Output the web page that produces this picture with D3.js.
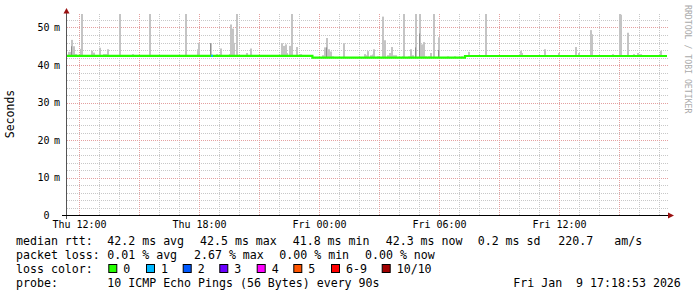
<!DOCTYPE html>
<html>
<head>
<meta charset="utf-8">
<script src="https://cdn.jsdelivr.net/npm/d3@7"></script>
<style>
body { margin: 0; background: #fff; }
text { font-family: "DejaVu Sans Mono", monospace; white-space: pre; }
</style>
</head>
<body>
<svg id="chart" width="697" height="297"></svg>
<script>
// hours are counted from Thu 8 Jan 2026 00:00 (so 24 = Fri 00:00)
var startHour = 11.4, endHour = 41.4;

// median rtt (ms), step line
var medianHours  = [11.4, 23.67, 23.67, 31.3, 31.3, 41.4];
var medianValues = [42.45, 42.45, 41.95, 41.95, 42.4, 42.4];

// smoke: max ping rtt (ms) where it rises above the median
var smokeHours = [11.50, 11.55, 11.65, 11.75, 11.85, 12.10, 12.15, 12.65, 12.75, 13.05,
  13.25, 13.35, 13.45, 14.05, 14.70, 15.55, 17.35, 17.95, 18.00, 18.60,
  18.90, 19.10, 19.55, 19.60, 19.70, 19.75, 19.90, 20.40, 20.60, 22.15,
  22.25, 22.35, 22.40, 22.55, 22.65, 22.90, 23.10, 24.20, 24.30, 24.40,
  24.50, 24.60, 24.70, 25.25, 26.30, 26.35, 26.45, 26.60, 26.70, 26.75,
  26.95, 27.20, 27.30, 27.45, 27.55, 27.65, 27.75, 27.85, 28.20, 28.25,
  28.50, 28.60, 28.70, 28.85, 29.05, 29.15, 29.20, 29.25, 29.35, 29.50,
  29.60, 29.75, 30.00, 30.45, 30.80, 31.15, 31.40, 31.50, 32.35, 34.10,
  34.15, 35.30, 36.00, 36.85, 37.00, 37.60, 37.65, 38.70, 39.05, 39.10,
  39.45, 39.75, 39.95, 40.10, 41.10];
var smokeTops = [43.5, 43.5, 46.7, 45.0, 42.9, 44.3, 53.6, 43.8, 43.3, 44.6,
  42.9, 42.9, 44.2, 53.6, 42.9, 53.6, 53.6, 44.2, 45.9, 45.8,
  42.9, 44.4, 42.9, 50.8, 49.7, 45.9, 53.6, 43.2, 44.4, 45.8,
  45.1, 45.5, 43.2, 45.1, 53.6, 44.8, 42.9, 42.6, 44.7, 47.2,
  44.2, 43.6, 42.3, 45.8, 42.9, 42.6, 43.7, 42.6, 42.8, 44.2,
  42.3, 52.9, 46.6, 42.6, 43.2, 44.8, 42.6, 42.6, 42.3, 53.6,
  42.3, 44.2, 42.6, 53.6, 53.6, 45.5, 44.8, 46.1, 42.3, 42.3,
  43.2, 53.6, 47.4, 42.3, 42.3, 42.3, 42.6, 43.5, 53.6, 43.8,
  43.2, 44.2, 43.2, 44.8, 43.2, 49.3, 48.2, 42.9, 53.6, 53.4,
  48.6, 42.9, 43.2, 42.9, 43.8];

// darker inner smoke
var darkHours = [11.65, 18.60, 24.40, 28.85, 29.05, 30.00];
var darkTops  = [45.0, 45.8, 44.7, 44.7, 48.4, 44.0];

// loss events drawn on the median line
var lossHours  = [18.60];
var lossLevels = [1];

var yMax = 53.6;
var yGridStep = 2, yMajorStep = 10;
var yTickValues = [0, 10, 20, 30, 40, 50];

var lossLabels = ["0", "1", "2", "3", "4", "5", "6-9", "10/10"];
var lossColors = ["#26ff00", "#00b8ff", "#0059ff", "#6a00ff", "#ff00ff", "#ff5500", "#ff0000", "#a10000"];

var rttLabel  = "median rtt:";
var rttItems  = ["42.2 ms avg", "42.5 ms max", "41.8 ms min", "42.3 ms now", "0.2 ms sd", "220.7", "am/s"];
var lossLabel = "packet loss:";
var lossItems = ["0.01 % avg", "2.67 % max", "0.00 % min", "0.00 % now"];
var probeText = "10 ICMP Echo Pings (56 Bytes) every 90s";
var stampText = "Fri Jan  9 17:18:53 2026";

// ---------------------------------------------------------------
var base = new Date(2026, 0, 8, 0, 0, 0).getTime();
function t(h) { return new Date(base + h * 3600e3); }

var svg = d3.select("#chart");
var plotLeft = 67, plotRight = 667, plotTop = 14, plotBottom = 215;

var x = d3.scaleTime().domain([t(startHour), t(endHour)]).range([plotLeft, plotRight]);
var y = d3.scaleLinear().domain([0, yMax]).range([plotBottom, plotTop]);

function px(v) { return Math.round(v) + 0.5; }

var grid = svg.append("g");
// horizontal grid
var yGrid = d3.range(yGridStep, yMax, yGridStep);
var hours = x.ticks(d3.timeHour.every(1));
grid.selectAll("line.hmin").data(yGrid.filter(function(d){ return d % yMajorStep !== 0; }))
  .enter().append("line")
  .attr("x1", plotLeft).attr("x2", plotRight + 1)
  .attr("y1", function(d){ return px(y(d)); }).attr("y2", function(d){ return px(y(d)); })
  .attr("style", "stroke:#c8c8c8; stroke-width:1; stroke-dasharray:1,1;");
// vertical grid
grid.selectAll("line.vmin").data(hours.filter(function(d){ return d.getHours() % 3 !== 0; }))
  .enter().append("line")
  .attr("x1", function(d){ return px(x(d)); }).attr("x2", function(d){ return px(x(d)); })
  .attr("y1", plotTop).attr("y2", plotBottom)
  .attr("style", "stroke:#c8c8c8; stroke-width:1; stroke-dasharray:1,1;");
grid.selectAll("line.hmaj").data(yGrid.filter(function(d){ return d % yMajorStep === 0; }))
  .enter().append("line")
  .attr("x1", plotLeft).attr("x2", plotRight + 1)
  .attr("y1", function(d){ return px(y(d)); }).attr("y2", function(d){ return px(y(d)); })
  .attr("style", "stroke:#e4a0a0; stroke-width:1; stroke-dasharray:1,1;");
grid.selectAll("line.vmaj").data(hours.filter(function(d){ return d.getHours() % 3 === 0; }))
  .enter().append("line")
  .attr("x1", function(d){ return px(x(d)); }).attr("x2", function(d){ return px(x(d)); })
  .attr("y1", plotTop).attr("y2", plotBottom)
  .attr("style", "stroke:#e4a0a0; stroke-width:1; stroke-dasharray:1,1;");

// median value at a given hour
function medianAt(h) {
  for (var i = medianHours.length - 1; i >= 0; i--) if (h >= medianHours[i]) return medianValues[i];
  return medianValues[0];
}

// smoke
svg.append("g").selectAll("rect").data(smokeHours)
  .enter().append("rect")
  .attr("x", function(d){ return Math.round(x(t(d))) - 1; })
  .attr("width", 2)
  .attr("y", function(d, i){ return y(smokeTops[i]); })
  .attr("height", function(d, i){ return y(medianAt(d)) - y(smokeTops[i]); })
  .attr("fill", "#c4c4c4");
svg.append("g").selectAll("rect").data(darkHours)
  .enter().append("rect")
  .attr("x", function(d){ return Math.round(x(t(d))) - 1; })
  .attr("width", 1)
  .attr("y", function(d, i){ return y(darkTops[i]); })
  .attr("height", function(d, i){ return y(medianAt(d)) - y(darkTops[i]); })
  .attr("fill", "#8e8e8e");

// median line
var line = d3.line()
  .x(function(d){ return x(t(d)); })
  .y(function(d, i){ return y(medianValues[i]); });
svg.append("path").datum(medianHours)
  .attr("d", line)
  .attr("fill", "none")
  .attr("stroke", lossColors[0])
  .attr("stroke-width", 2.2);
svg.append("g").selectAll("rect").data(lossHours)
  .enter().append("rect")
  .attr("x", function(d){ return Math.round(x(t(d))); })
  .attr("width", 2)
  .attr("y", function(d){ return y(medianAt(d)) - 1; })
  .attr("height", 2)
  .attr("fill", function(d, i){ return lossColors[lossLevels[i]]; });

// axes
svg.append("line").attr("x1", 66.5).attr("x2", 66.5).attr("y1", 11).attr("y2", 219)
  .attr("style", "stroke:#555; stroke-width:1;");
svg.append("line").attr("x1", 62).attr("x2", 669).attr("y1", 215.5).attr("y2", 215.5)
  .attr("style", "stroke:#000; stroke-width:1;");
svg.append("path").attr("d", "M63.5,13.5 L69.5,13.5 L66.5,8 Z").attr("fill", "#9a1111");
svg.append("path").attr("d", "M668,212.5 L668,218.5 L674,215.5 Z").attr("fill", "#9a1111");

// y tick labels
var yl = svg.append("g").attr("font-size", "10px").attr("fill", "#000");
yl.selectAll("text.n").data(yTickValues).enter().append("text")
  .attr("x", 49.5).attr("y", function(d){ return y(d) + 3.5; })
  .attr("text-anchor", "end").text(function(d){ return d; });
yl.selectAll("text.m").data(yTickValues.filter(function(d){ return d > 0; })).enter().append("text")
  .attr("x", 54).attr("y", function(d){ return y(d) + 3.5; })
  .text("m");

// x tick labels
var fmt = d3.timeFormat("%a %H:%M");
svg.append("g").attr("font-size", "10px").attr("fill", "#000")
  .selectAll("text").data(x.ticks(d3.timeHour.every(6)))
  .enter().append("text")
  .attr("x", function(d){ return x(d) + 0.5; }).attr("y", 228)
  .attr("text-anchor", "middle").text(function(d){ return fmt(d); });

// titles
svg.append("text").attr("transform", "translate(14,114) rotate(-90)")
  .attr("text-anchor", "middle").attr("font-size", "11.5px").attr("fill", "#000").text("Seconds");
svg.append("text").attr("transform", "translate(685,5) rotate(90)")
  .attr("font-size", "8.2px").attr("fill", "#aaa").text("RRDTOOL / TOBI OETIKER");

// legend
var lg = svg.append("g").attr("font-size", "11.6px").attr("fill", "#000");
var rttX = [107.3, 200, 292.7, 385.7, 477.7, 558.3, 614.3];
var lossX = [107.3, 194, 279.3, 365];
var boxX = [108.3, 146, 182.7, 219.3, 256.7, 293.3, 331, 381.7];
lg.append("text").attr("x", 16).attr("y", 244.5).text(rttLabel);
lg.selectAll("text.r").data(rttItems).enter().append("text")
  .attr("x", function(d, i){ return rttX[i]; }).attr("y", 244.5).text(function(d){ return d; });
lg.append("text").attr("x", 16).attr("y", 258.5).text(lossLabel);
lg.selectAll("text.l").data(lossItems).enter().append("text")
  .attr("x", function(d, i){ return lossX[i]; }).attr("y", 258.5).text(function(d){ return d; });
lg.append("text").attr("x", 16).attr("y", 272.5).text("loss color:");
lg.selectAll("rect").data(lossColors).enter().append("rect")
  .attr("x", function(d, i){ return boxX[i] + 0.5; }).attr("y", 264.5)
  .attr("width", 8).attr("height", 8)
  .attr("fill", function(d){ return d; }).attr("stroke", "#000").attr("stroke-width", 1);
lg.selectAll("text.c").data(lossLabels).enter().append("text")
  .attr("x", function(d, i){ return boxX[i] + 15; }).attr("y", 272.5).text(function(d){ return d; });
lg.append("text").attr("x", 16).attr("y", 286.5).text("probe:");
lg.append("text").attr("x", 107.3).attr("y", 286.5).text(probeText);
lg.append("text").attr("x", 513.3).attr("y", 286.5).text(stampText);
</script>
</body>
</html>
